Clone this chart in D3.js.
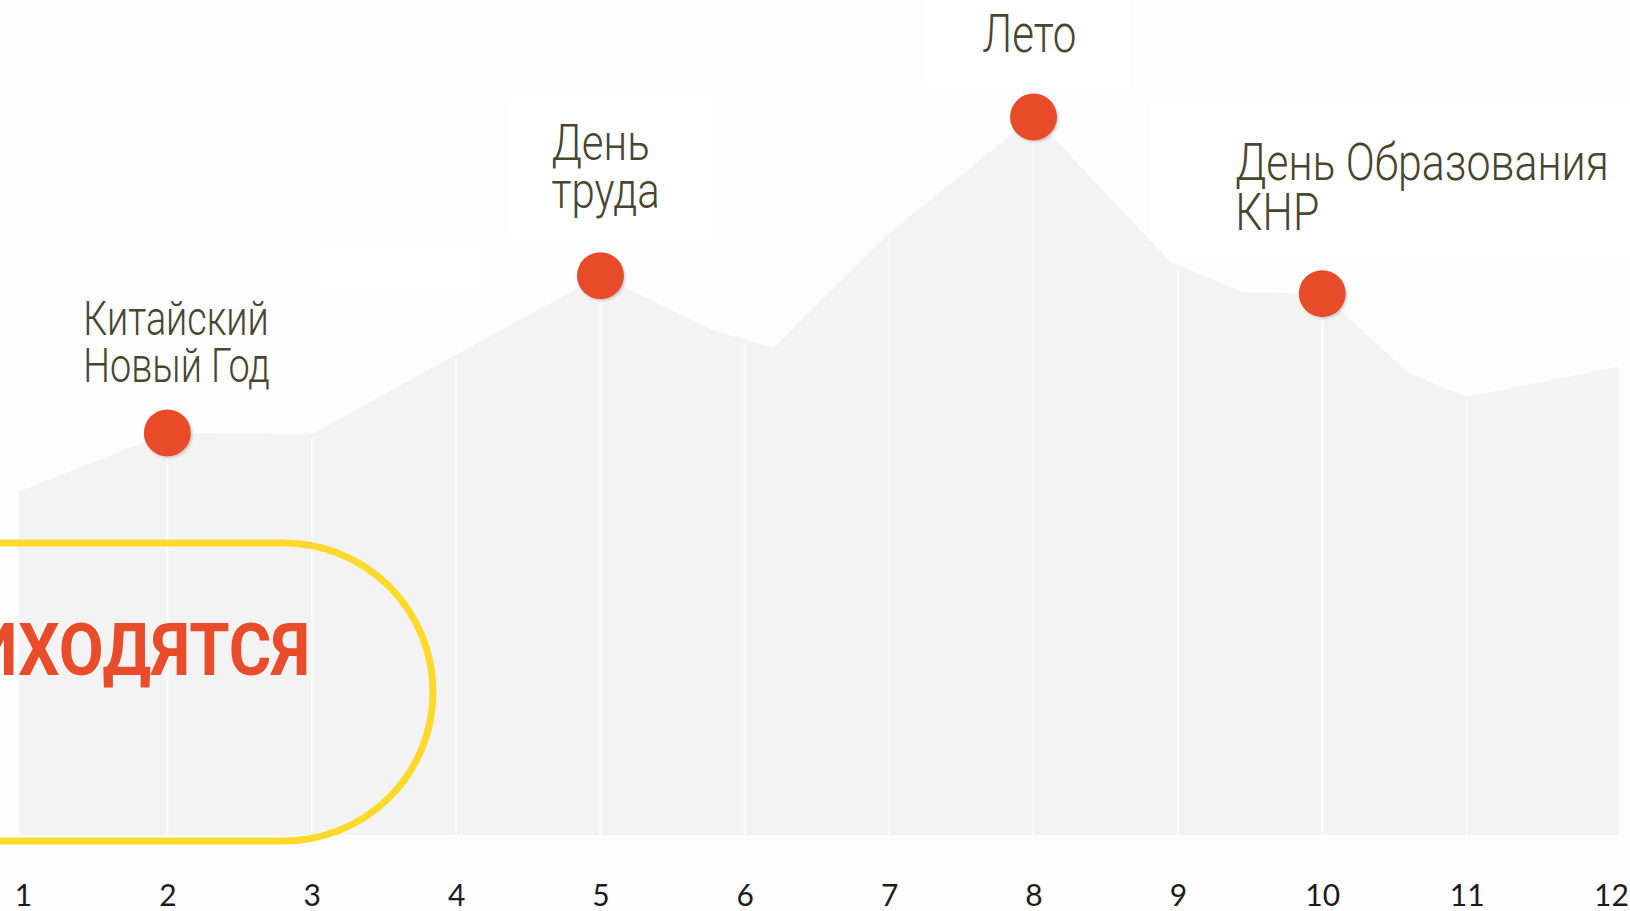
<!DOCTYPE html>
<html>
<head>
<meta charset="utf-8">
<script src="https://cdn.jsdelivr.net/npm/d3@7"></script>
<style>
	html, body { margin: 0; padding: 0; background: #fdfdfd; overflow: hidden; }
	svg { display: block; }
</style>
</head>
<body>
<svg id="chart"></svg>
<script>
// Месяцы по оси X
var months = [1, 2, 3, 4, 5, 6, 7, 8, 9, 10, 11, 12];

// Линия сезонности (месяц может быть дробным — изломы между месяцами)
var seasonMonth = [0.97, 2, 3, 4, 5, 5.78, 6.2, 7, 8, 8.95, 9.45, 10, 10.6, 11, 12.05];
var seasonValue = [47.8, 56.0, 55.8, 66.9, 77.9, 70.3, 67.8, 83.8, 100, 79.8, 75.6, 75.4, 64.3, 61.0, 65.2];

// Праздники / события
var eventMonths = [2, 5, 8, 10];
var eventLabels = [
	["Китайский", "Новый Год"],
	["День", "труда"],
	["Лето"],
	["День Образования", "КНР"]
];

var W = 1630, H = 911;
var svg = d3.select("#chart").attr("width", W).attr("height", H);

var x = d3.scaleLinear().domain([1, 12]).range([23, 1611]);
var y = d3.scaleLinear().domain([0, 100]).range([835, 117]);

var points = seasonMonth.map(function(m, i) { return [m, seasonValue[i]]; });

// faint lighter boxes behind the labels (as in the original layout)
var boxes = [[925, 0, 205, 86], [509, 98, 208, 140], [320, 248, 160, 38], [1150, 105, 480, 150]];
svg.selectAll("rect.box").data(boxes).enter().append("rect")
	.attr("class", "box")
	.attr("x", function(d) { return d[0]; })
	.attr("y", function(d) { return d[1]; })
	.attr("width", function(d) { return d[2]; })
	.attr("height", function(d) { return d[3]; })
	.attr("fill", "#ffffff");

// area
var area = d3.area()
	.x(function(d) { return x(d[0]); })
	.y0(y(0))
	.y1(function(d) { return y(d[1]); });

svg.append("path")
	.datum(points)
	.attr("d", area)
	.attr("fill", "#f3f3f3");

// value of the line at any month
var lookup = function(m) {
	var i = d3.bisector(function(d) { return d[0]; }).left(points, m);
	if (i <= 0) return points[0][1];
	if (i >= points.length) return points[points.length - 1][1];
	var a = points[i - 1], b = points[i];
	return a[1] + (b[1] - a[1]) * (m - a[0]) / (b[0] - a[0]);
};

// vertical white grid lines at every month
svg.selectAll("line.grid").data(months.slice(1, 11)).enter().append("line")
	.attr("class", "grid")
	.attr("x1", function(d) { return x(d); })
	.attr("x2", function(d) { return x(d); })
	.attr("y1", function(d) { return y(lookup(d)) + 4; })
	.attr("y2", y(0))
	.attr("stroke", "#fbfbfb")
	.attr("stroke-width", 2);

// x axis labels
var axis = d3.axisBottom(x).tickValues(months).tickSize(0).tickPadding(0).tickFormat(d3.format("d"));
var gx = svg.append("g")
	.attr("transform", "translate(0,885)")
	.call(axis);
gx.select(".domain").remove();
gx.selectAll("text")
	.attr("dy", "0.71em")
	.style("font-family", "Lato, 'Open Sans', sans-serif")
	.style("font-size", "30px")
	.style("font-weight", 400)
	.attr("fill", "#1c1c1c");

// yellow rounded frame
var frame = d3.path();
var fTop = 543, fBot = 841, fR = (fBot - fTop) / 2, fCx = 284;
frame.moveTo(-20, fTop);
frame.lineTo(fCx, fTop);
frame.arc(fCx, fTop + fR, fR, -Math.PI / 2, Math.PI / 2);
frame.lineTo(-20, fBot);
svg.append("path")
	.attr("d", frame.toString())
	.attr("fill", "none")
	.attr("stroke", "#fdd92b")
	.attr("stroke-width", 7);

svg.append("text")
	.attr("x", 310)
	.attr("y", 675)
	.attr("text-anchor", "end")
	.attr("textLength", 338)
	.attr("lengthAdjust", "spacingAndGlyphs")
	.style("font-family", "Roboto, sans-serif")
	.style("font-weight", 700)
	.style("font-size", "73px")
	.attr("fill", "#e84c2b")
	.text("ИХОДЯТСЯ");

// markers
var defs = svg.append("defs");
var f = defs.append("filter").attr("id", "sh").attr("x", "-50%").attr("y", "-50%").attr("width", "200%").attr("height", "200%");
f.append("feDropShadow").attr("dx", 1.5).attr("dy", 1.5).attr("stdDeviation", 1.2).attr("flood-color", "#000").attr("flood-opacity", 0.18);

svg.selectAll("circle.ev").data(eventMonths).enter().append("circle")
	.attr("class", "ev")
	.attr("cx", function(d) { return x(d); })
	.attr("cy", function(d) { return y(lookup(d)); })
	.attr("r", 23.5)
	.attr("fill", "#e84c2b")
	.attr("filter", "url(#sh)");

// labels: offset of left edge / last baseline from the marker, font size, line gap, x-scale
var labelLayout = [
	{dx: -84, dy: -51, size: 49, gap: 47, sx: 0.77},
	{dx: -49, dy: -68, size: 50, gap: 48, sx: 0.84},
	{dx: -51, dy: -65, size: 54, gap: 50, sx: 0.78},
	{dx: -87, dy: -64, size: 51, gap: 50, sx: 0.84}
];

eventMonths.forEach(function(m, i) {
	var lines = eventLabels[i];
	var L = labelLayout[i];
	var lx = x(m) + L.dx;
	var ly = y(lookup(m)) + L.dy - (lines.length - 1) * L.gap;
	var t = svg.append("g")
		.attr("transform", "translate(" + lx + "," + ly + ") scale(" + L.sx + ",1)")
		.append("text")
		.style("font-family", "Roboto, sans-serif")
		.style("font-weight", 300)
		.style("font-size", L.size + "px")
		.attr("fill", "#48462f");
	t.selectAll("tspan").data(lines).enter().append("tspan")
		.attr("x", 0)
		.attr("y", function(d, j) { return j * L.gap; })
		.text(function(d) { return d; });
});
</script>
</body>
</html>
